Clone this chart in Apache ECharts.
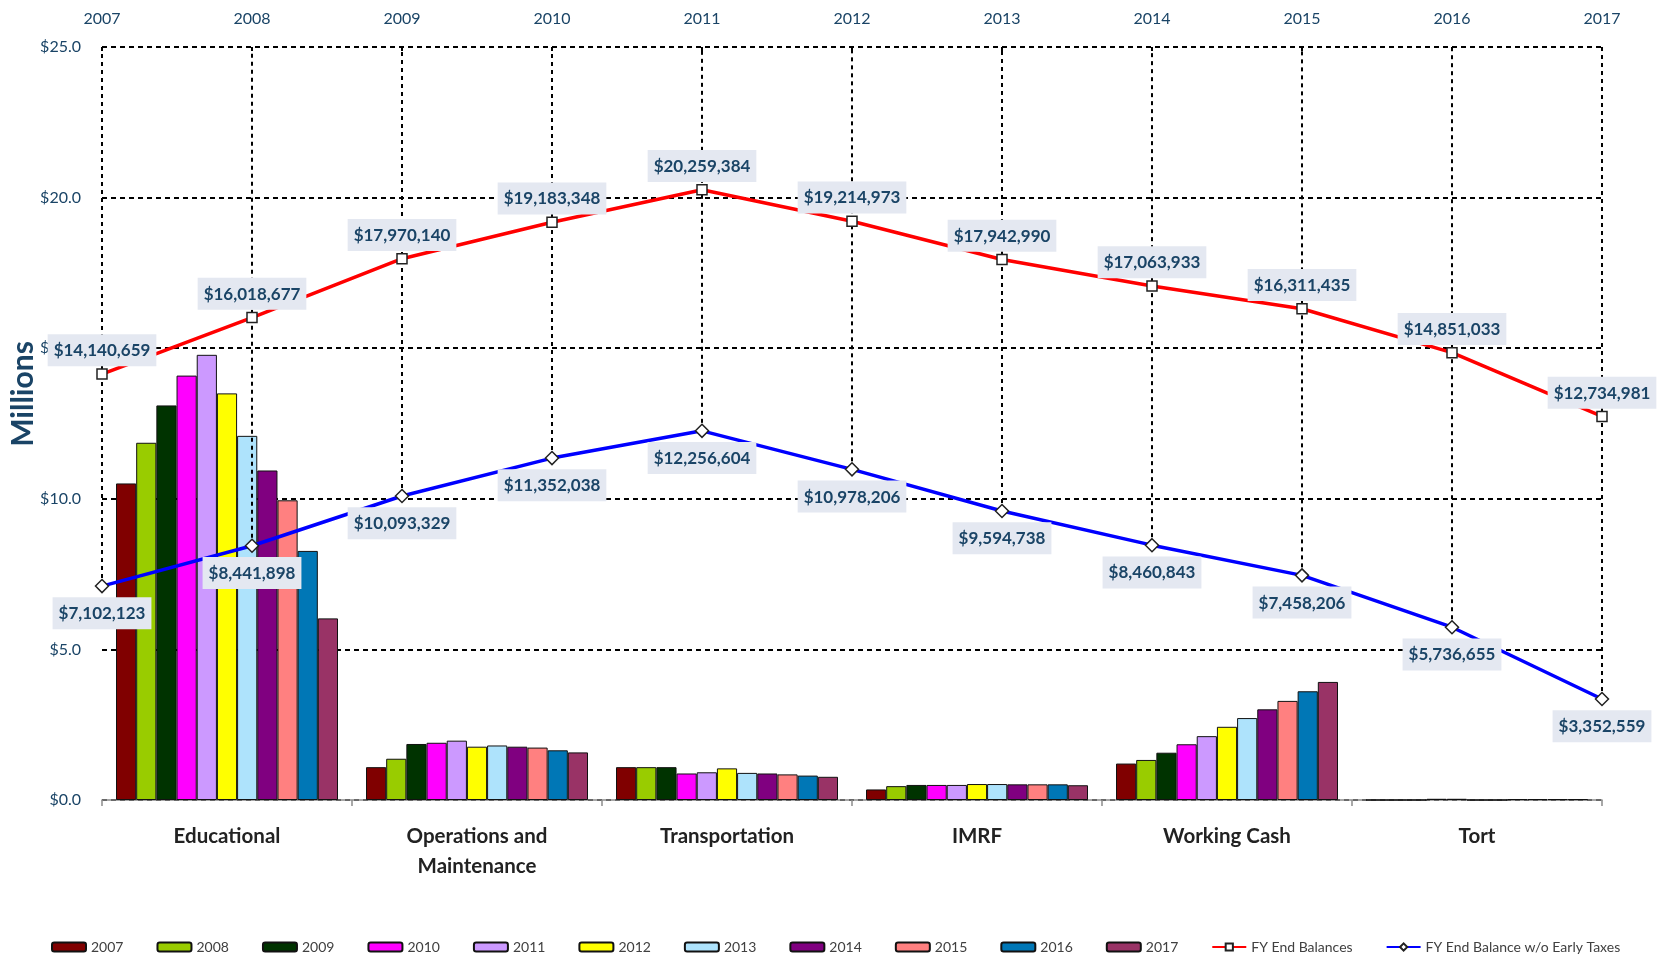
<!DOCTYPE html>
<html>
<head>
<meta charset="utf-8">
<script src="https://cdn.jsdelivr.net/npm/echarts@6/dist/echarts.min.js"></script>
<style>
html,body{margin:0;padding:0;background:#fff;}
#chart{width:1658px;height:957px;}
</style>
</head>
<body>
<div id="chart"></div>
<script>
// ---- data ----
const funds = ['Educational', 'Operations and\nMaintenance', 'Transportation', 'IMRF', 'Working Cash', 'Tort'];
const years = ['2007','2008','2009','2010','2011','2012','2013','2014','2015','2016','2017'];
// values in millions, per year, one value per fund
const v2007 = [10.51, 1.09, 1.09, 0.35, 1.21, 0.00];
const v2008 = [11.86, 1.37, 1.09, 0.46, 1.33, 0.00];
const v2009 = [13.10, 1.86, 1.09, 0.50, 1.57, 0.00];
const v2010 = [14.09, 1.90, 0.88, 0.50, 1.85, 0.04];
const v2011 = [14.78, 1.97, 0.92, 0.50, 2.12, 0.04];
const v2012 = [13.50, 1.77, 1.05, 0.53, 2.43, 0.00];
const v2013 = [12.09, 1.81, 0.90, 0.53, 2.72, 0.00];
const v2014 = [10.94, 1.77, 0.88, 0.52, 3.01, 0.03];
const v2015 = [9.95, 1.74, 0.85, 0.52, 3.29, 0.03];
const v2016 = [8.27, 1.65, 0.81, 0.52, 3.61, 0.03];
const v2017 = [6.03, 1.58, 0.77, 0.49, 3.92, 0.03];
const barValues = [v2007, v2008, v2009, v2010, v2011, v2012, v2013, v2014, v2015, v2016, v2017];
const fyEndBalances = [14140659, 16018677, 17970140, 19183348, 20259384, 19214973, 17942990, 17063933, 16311435, 14851033, 12734981];
const fyEndNoEarly = [7102123, 8441898, 10093329, 11352038, 12256604, 10978206, 9594738, 8460843, 7458206, 5736655, 3352559];
const yTicks = [0, 5, 10, 15, 20, 25];

// ---- styles ----
const barColors = ['#800000','#99CC00','#003300','#FF00FF','#CC99FF','#FFFF00','#AEE3FC','#800080','#FF8080','#0077B6','#993366'];
const blueText = '#1A4466';
const FONT = 'Lato, "Open Sans", sans-serif';

const chart = echarts.init(document.getElementById('chart'));

const fmt = v => '$' + v.toLocaleString('en-US');

const labelBox = {
  show: true,
  color: blueText,
  fontFamily: FONT,
  fontWeight: 'bold',
  fontSize: 17,
  backgroundColor: '#E4E8F1',
  padding: [8, 6, 7, 6]
};

const barSeries = years.map((y, i) => ({
  name: y,
  type: 'bar',
  xAxisIndex: 0,
  yAxisIndex: 0,
  barGap: '0%',
  barCategoryGap: '11.2%',
  itemStyle: { color: barColors[i], borderColor: '#111', borderWidth: 1 },
  data: barValues[i],
  z: 2
}));

const dropLines = years.map((y, i) => [
  { coord: [i, fyEndNoEarly[i] / 1e6] },
  { coord: [i, yTicks[yTicks.length - 1]] }
]);

const option = {
  backgroundColor: '#fff',
  animation: false,
  textStyle: { fontFamily: FONT },
  grid: { left: 102, right: 56, top: 47, bottom: 157, containLabel: false },
  legend: {
    left: 46,
    top: 935,
    itemGap: 33,
    itemWidth: 34,
    itemHeight: 9,
    textStyle: { fontFamily: FONT, fontSize: 14, color: '#404040' },
    data: years.concat(['FY End Balances', 'FY End Balance w/o Early Taxes'])
  },
  xAxis: [
    {
      type: 'category',
      position: 'bottom',
      data: funds,
      boundaryGap: true,
      axisLine: { show: true, lineStyle: { color: '#8c8c8c', width: 1.5 } },
      axisTick: { show: true, length: 6, interval: 0, lineStyle: { color: '#8c8c8c', width: 1.5 } },
      axisLabel: { interval: 0, margin: 21, fontFamily: FONT, fontWeight: 'bold', fontSize: 20.5, color: '#222', lineHeight: 30 },
      splitLine: { show: false }
    },
    {
      type: 'category',
      position: 'top',
      data: years,
      boundaryGap: false,
      axisLine: { show: false },
      axisTick: { show: true, inside: true, length: 4, lineStyle: { color: '#000', width: 2 } },
      axisLabel: { interval: 0, margin: 20, fontFamily: FONT, fontSize: 16, color: blueText },
      splitLine: { show: false }
    }
  ],
  yAxis: [
    {
      type: 'value',
      min: yTicks[0],
      max: yTicks[yTicks.length - 1],
      interval: 5,
      axisLine: { show: false },
      axisTick: { show: false },
      axisLabel: { margin: 21, fontFamily: FONT, fontSize: 16, color: blueText, formatter: v => '$' + v.toFixed(1) },
      splitLine: { show: true, lineStyle: { color: '#000', width: 2, type: [5, 4] } }
    }
  ],
  graphic: [
    {
      type: 'text',
      rotation: Math.PI / 2,
      style: { text: 'Millions', fontFamily: FONT, fontWeight: 'bold', fontSize: 30, fill: blueText, textAlign: 'center', textVerticalAlign: 'middle' },
      x: 23, y: 394
    }
  ],
  series: barSeries.concat([
    {
      name: 'FY End Balances',
      type: 'line',
      xAxisIndex: 1,
      yAxisIndex: 0,
      data: fyEndBalances.map(v => v / 1e6),
      symbol: 'rect',
      symbolSize: 10,
      lineStyle: { color: '#FF0000', width: 3.5 },
      itemStyle: { color: '#fff', borderColor: '#222', borderWidth: 1.5 },
      label: Object.assign({}, labelBox, { position: 'top', distance: 2, formatter: p => fmt(fyEndBalances[p.dataIndex]) }),
      z: 5
    },
    {
      name: 'FY End Balance w/o Early Taxes',
      type: 'line',
      xAxisIndex: 1,
      yAxisIndex: 0,
      data: fyEndNoEarly.map(v => v / 1e6),
      symbol: 'diamond',
      symbolSize: 13,
      lineStyle: { color: '#0000FF', width: 3.5 },
      itemStyle: { color: '#fff', borderColor: '#222', borderWidth: 1.5 },
      label: Object.assign({}, labelBox, { position: 'bottom', distance: 4, formatter: p => fmt(fyEndNoEarly[p.dataIndex]) }),
      markLine: {
        silent: true,
        symbol: ['none', 'none'],
        label: { show: false },
        lineStyle: { color: '#000', width: 2, type: [4, 4] },
        data: dropLines,
        z: 3
      },
      z: 5
    }
  ])
};

chart.setOption(option);
</script>
</body>
</html>
